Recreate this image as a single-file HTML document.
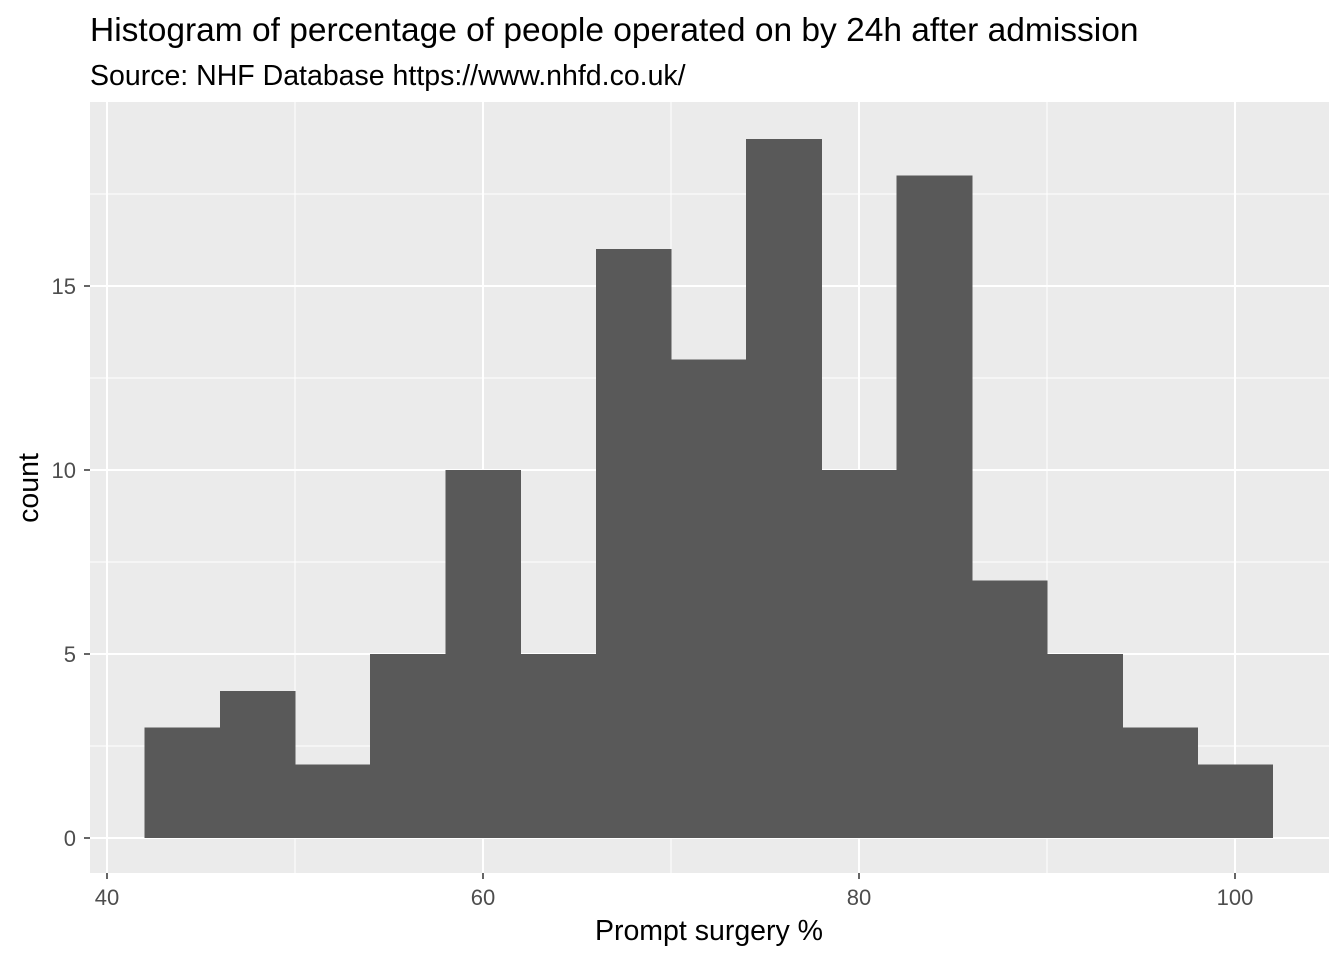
<!DOCTYPE html>
<html><head><meta charset="utf-8"><style>
body{margin:0;background:#fff;font-family:"Liberation Sans",Arial,sans-serif;}
</style></head><body>
<svg width="1344" height="960" xmlns="http://www.w3.org/2000/svg">
<text x="90" y="41" font-size="33.5" fill="#000">Histogram of percentage of people operated on by 24h after admission</text>
<text x="90" y="85" font-size="28.5" fill="#000">Source: NHF Database https://www.nhfd.co.uk/</text>
<rect x="90" y="102" width="1239" height="771" fill="#ebebeb"/>
<g id="grid"></g>
<g id="bars" shape-rendering="crispEdges"></g>
<g id="axes"></g>
<text x="709" y="940" font-size="28.5" text-anchor="middle" fill="#000">Prompt surgery %</text>
<text transform="translate(38,488) rotate(-90)" font-size="28.5" text-anchor="middle" fill="#000">count</text>
</svg>
<script>
const binStarts=[42,46,50,54,58,62,66,70,74,78,82,86,90,94,98];
const counts=[3,4,2,5,10,5,16,13,19,10,18,7,5,3,2];
const binWidth=4;
const xTicks=[40,60,80,100];
const xMinor=[50,70,90];
const yTicks=[0,5,10,15];
const yMinor=[2.5,7.5,12.5,17.5];
const NS="http://www.w3.org/2000/svg";
const xs=v=>107+(v-40)*18.8;
const ys=v=>838-v*36.8;
function mk(t,a,p){const e=document.createElementNS(NS,t);for(const k in a)e.setAttribute(k,a[k]);p.appendChild(e);return e;}
const g=document.getElementById('grid'),b=document.getElementById('bars'),ax=document.getElementById('axes');
xMinor.forEach(v=>{const l=mk('line',{x1:xs(v),x2:xs(v),y1:102,y2:873,stroke:'#fff','stroke-width':1},g);

});
yMinor.forEach(v=>{const l=mk('line',{x1:90,x2:1329,y1:ys(v),y2:ys(v),stroke:'#fff','stroke-width':1},g);

});
xTicks.forEach(v=>{const l=mk('line',{x1:xs(v),x2:xs(v),y1:102,y2:873,stroke:'#fff','stroke-width':2},g);


const t=mk('line',{x1:xs(v),x2:xs(v),y1:873,y2:879,stroke:'#333','stroke-width':1.5},ax);


const tx=mk('text',{x:xs(v),y:905,'font-size':22,'text-anchor':'middle',fill:'#4d4d4d'},ax);tx.textContent=v;

});
yTicks.forEach(v=>{const l=mk('line',{x1:90,x2:1329,y1:ys(v),y2:ys(v),stroke:'#fff','stroke-width':2},g);


const t=mk('line',{x1:84,x2:90,y1:ys(v),y2:ys(v),stroke:'#333','stroke-width':1.5},ax);


const tx=mk('text',{x:76,y:ys(v)+8,'font-size':22,'text-anchor':'end',fill:'#4d4d4d'},ax);tx.textContent=v;

});
binStarts.forEach((s,i)=>{const r=mk('rect',{x:xs(s),y:ys(counts[i]),width:xs(s+binWidth)-xs(s)+0.6,height:ys(0)-ys(counts[i]),fill:'#595959'},b);

});
</script>
</body></html>
